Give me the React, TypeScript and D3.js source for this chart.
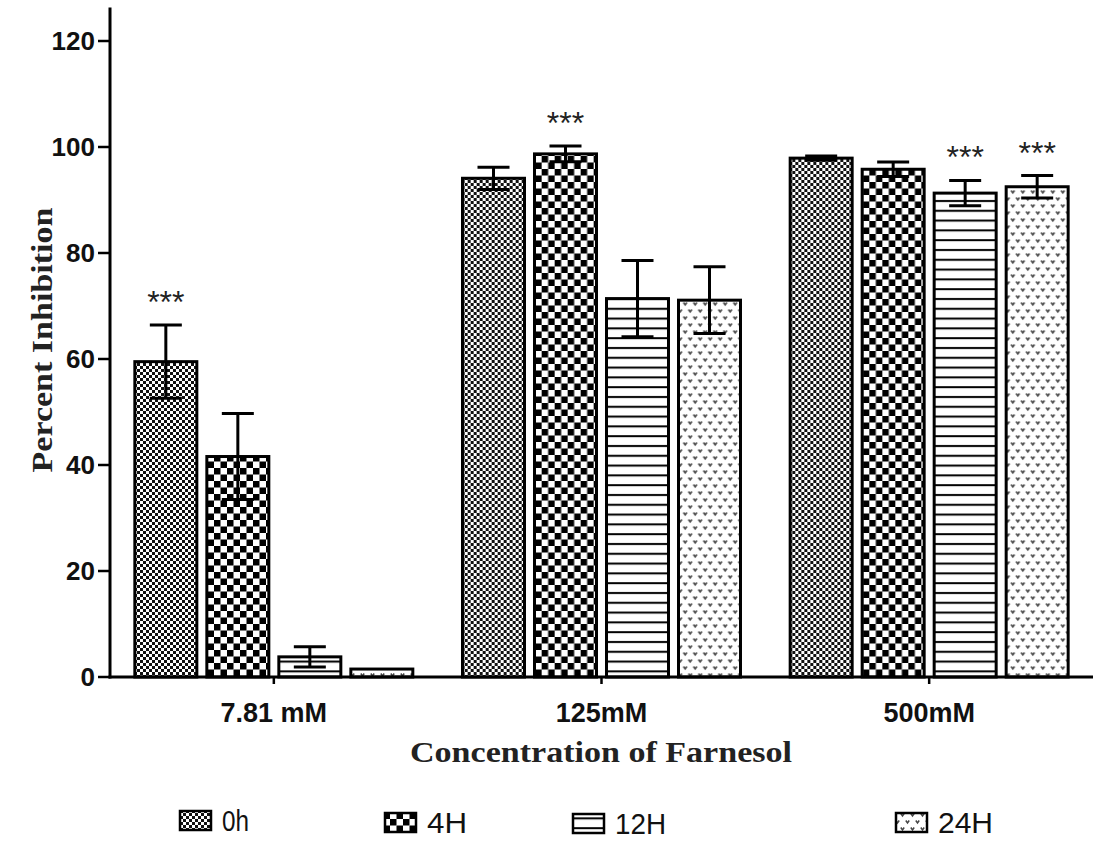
import React from 'react';
import * as d3 from 'd3';

// concentrations and time points
const groups = ['7.81 mM', '125mM', '500mM'];
const series = ['0h', '4H', '12H', '24H'];

// mean percent inhibition per concentration
const mean0h = [59.5, 94.1, 97.9];
const mean4H = [41.6, 98.7, 95.8];
const mean12H = [3.8, 71.4, 91.3];
const mean24H = [1.5, 71.1, 92.5];

// error (SEM) per concentration
const err0h = [6.9, 2.1, 0.4];
const err4H = [8.1, 1.5, 1.35];
const err12H = [1.9, 7.2, 2.4];
const err24H = [0, 6.3, 2.1];

// significance marks
const sig0h = ['***', '', ''];
const sig4H = ['', '***', ''];
const sig12H = ['', '', '***'];
const sig24H = ['', '', '***'];

const yTicks = [0, 20, 40, 60, 80, 100, 120];

const means = [mean0h, mean4H, mean12H, mean24H];
const errs = [err0h, err4H, err12H, err24H];
const sigs = [sig0h, sig4H, sig12H, sig24H];
const patternIds = ['p0h', 'p4h', 'p12h', 'p24h'];

const W = 1101;
const H = 841;
const axisX = 110;
const axisRight = 1093;
const baseY = 677;

const x0 = d3.scaleBand<string>().domain(groups).range([axisX, axisRight]).padding(0);
const x1 = d3.scaleBand<string>().domain(series).range([0, x0.bandwidth()])
  .paddingInner(0.139).paddingOuter(0.345);
const y = d3.scaleLinear().domain([0, 120]).range([baseY, 41]);

const sans = 'Arial, "Liberation Sans", sans-serif';
const serif = '"Times New Roman", "Liberation Serif", serif';

const Patterns = () => (
  <defs>
    <pattern id="p0h" width={6} height={6} patternUnits="userSpaceOnUse">
      <rect width={6} height={6} fill="#fff" />
      <rect x={0} y={0} width={3} height={3} fill="#111" />
      <rect x={3} y={3} width={3} height={3} fill="#111" />
    </pattern>
    <pattern id="p4h" width={13} height={13} patternUnits="userSpaceOnUse">
      <rect width={13} height={13} fill="#fff" />
      <rect x={0} y={0} width={6.5} height={6.5} fill="#000" />
      <rect x={6.5} y={6.5} width={6.5} height={6.5} fill="#000" />
    </pattern>
    <pattern id="p12h" width={10} height={9.8} patternUnits="userSpaceOnUse">
      <rect width={10} height={9.8} fill="#fff" />
      <rect x={0} y={4} width={10} height={2} fill="#000" />
    </pattern>
    <pattern id="p24h" width={10} height={14} patternUnits="userSpaceOnUse">
      <rect width={10} height={14} fill="#fff" />
      <path d="M0.8,1.5 L2.5,4 L4.2,1.5" fill="none" stroke="#444" strokeWidth={1.5} />
      <path d="M5.8,8.5 L7.5,11 L9.2,8.5" fill="none" stroke="#444" strokeWidth={1.5} />
    </pattern>
  </defs>
);

const App = () => {
  const capW = 32;
  const legendX = [180, 385, 573, 896];
  const legendY = [811, 813, 814, 813];
  const legendTextLen = [27, 40, 51, 55];

  return (
    <div style={{ position: 'absolute', left: 0, top: 0 }}>
      <svg width={W} height={H} style={{ display: 'block', background: '#fff' }}>
        <Patterns />

        {/* bars */}
        {groups.map((g, gi) => (
          <g key={g} transform={`translate(${x0(g)},0)`}>
            {series.map((s, si) => {
              const v = means[si][gi];
              const e = errs[si][gi];
              const bx = x1(s)!;
              const bw = x1.bandwidth();
              const cx = bx + bw / 2;
              return (
                <g key={s}>
                  <rect x={bx} y={y(v)} width={bw} height={baseY - y(v)}
                    fill={`url(#${patternIds[si]})`} stroke="#000" strokeWidth={3} />
                  {e > 0 && (
                    <g stroke="#000" strokeWidth={3}>
                      <line x1={cx} x2={cx} y1={y(v + e)} y2={y(v - e)} />
                      <line x1={cx - capW / 2} x2={cx + capW / 2} y1={y(v + e)} y2={y(v + e)} />
                      <line x1={cx - capW / 2} x2={cx + capW / 2} y1={y(v - e)} y2={y(v - e)} />
                    </g>
                  )}
                  {sigs[si][gi] && (
                    <text x={cx} y={y(v + e) - 12} textAnchor="middle" fontFamily={sans}
                      fontSize={32} fill="#222">{sigs[si][gi]}</text>
                  )}
                </g>
              );
            })}
          </g>
        ))}

        {/* y axis */}
        <line x1={axisX} x2={axisX} y1={y(126.3)} y2={baseY + 1.5} stroke="#000" strokeWidth={3} />
        {yTicks.map(t => (
          <g key={t}>
            <line x1={axisX - 12} x2={axisX} y1={y(t)} y2={y(t)} stroke="#000" strokeWidth={2.5} />
            <text x={axisX - 15} y={y(t)} dy="0.36em" textAnchor="end" fontFamily={sans}
              fontWeight="bold" fontSize={26} fill="#111">{t}</text>
          </g>
        ))}

        {/* x axis */}
        <line x1={axisX - 1.5} x2={axisRight} y1={baseY} y2={baseY} stroke="#000" strokeWidth={3} />
        {groups.map(g => {
          const cx = x0(g)! + x0.bandwidth() / 2;
          return (
            <g key={g}>
              <line x1={cx} x2={cx} y1={baseY} y2={baseY + 7} stroke="#000" strokeWidth={2.5} />
              <text x={cx} y={722} textAnchor="middle" fontFamily={sans} fontWeight="bold"
                fontSize={27} fill="#111">{g}</text>
            </g>
          );
        })}

        {/* axis titles */}
        <text x={601} y={762} textAnchor="middle" fontFamily={serif} fontWeight="bold"
          fontSize={30} fill="#222" textLength={382} lengthAdjust="spacingAndGlyphs">
          Concentration of Farnesol
        </text>
        <text transform="translate(52,340) rotate(-90)" textAnchor="middle" fontFamily={serif}
          fontWeight="bold" fontSize={30} fill="#222" textLength={265} lengthAdjust="spacingAndGlyphs">
          Percent Inhibition
        </text>

        {/* legend */}
        {series.map((s, si) => (
          <g key={s}>
            <rect x={legendX[si]} y={legendY[si]} width={31} height={19}
              fill={`url(#${patternIds[si]})`} stroke="#000" strokeWidth={2.5} />
            <text x={legendX[si] + 42} y={legendY[si] + 20} fontFamily={sans} fontSize={29}
              fill="#111" textLength={legendTextLen[si]} lengthAdjust="spacingAndGlyphs">{s}</text>
          </g>
        ))}
      </svg>
    </div>
  );
};

export default App;
